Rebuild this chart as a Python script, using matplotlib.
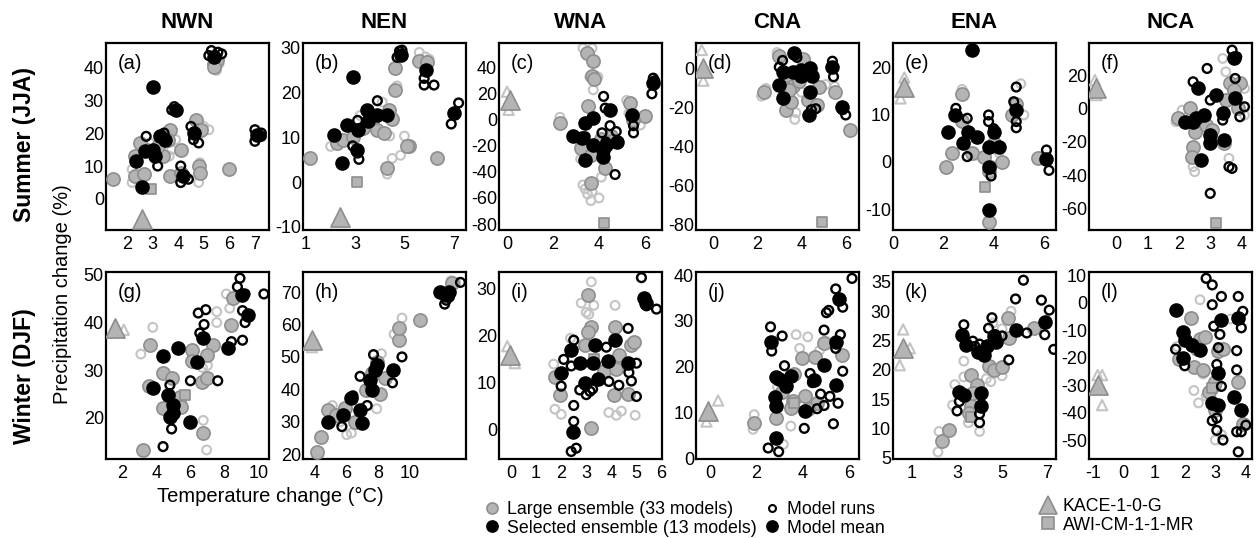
import matplotlib
matplotlib.use('Agg')
import matplotlib.pyplot as plt
from matplotlib.lines import Line2D

plt.rcParams['font.family'] = ['Liberation Sans', 'DejaVu Sans']
plt.rcParams['axes.unicode_minus'] = False

# --- dati: (variação de temperatura °C, variação de precipitação %) ---
REGIOES = ['NWN', 'NEN', 'WNA', 'CNA', 'ENA', 'NCA']
LETRAS = ['a', 'b', 'c', 'd', 'e', 'f', 'g', 'h', 'i', 'j', 'k', 'l']

# (a) NWN verão
a_lg = [(1.45, 6), (2.3, 13), (2.3, 7), (2.65, 7.5), (2.8, 15), (3.4, 13), (3.7, 21), (3.7, 7),
        (4.1, 15), (4.7, 24), (4.8, 21), (4.8, 10), (4.85, 8), (5.4, 41), (6.0, 9), (4.9, 21),
        (3.2, 16), (4.1, 8), (3.6, 18), (2.5, 17), (5.5, 42), (5.4, 40)]
a_lg_runs = [(4.8, 5), (5.0, 22), (5.2, 21), (3.75, 15), (3.65, 13), (2.2, 9), (2.2, 5),
             (4.85, 11), (5.5, 39), (5.6, 41), (2.9, 17), (3.9, 18)]
a_sel = [(3.0, 34), (2.6, 3.7), (2.37, 11.6), (2.7, 14.6), (3.1, 13), (3.3, 19), (3.5, 18),
         (3.9, 27), (4.2, 7), (4.6, 20), (5.4, 43), (7.1, 19.5), (3.0, 15)]
a_sel_runs = [(5.3, 45), (5.55, 44.5), (5.7, 44), (5.2, 43.5), (7.0, 21), (7.25, 20), (7.25, 19),
              (7.0, 17.5), (4.5, 22), (4.6, 18), (4.8, 17), (4.1, 10), (4.1, 5), (4.4, 6),
              (2.75, 19), (3.2, 10), (3.85, 28), (3.75, 27), (3.45, 20)]

# (b) NEN verão
b_lg = [(1.16, 5.3), (2.25, 8.7), (2.52, 9.5), (3.68, 13.5), (3.89, 11.6), (4.16, 10.9),
        (4.36, 16.1), (4.63, 20.6), (4.63, 25.5), (4.29, 3.1), (5.18, 8), (5.6, 27), (5.9, 26.9),
        (6.33, 5.3), (5.1, 8), (3.3, 12), (2.9, 10), (4.5, 14)]
b_lg_runs = [(4.5, 5.3), (4.3, 1.8), (5.0, 10.3), (4.84, 6), (4.4, 10.3), (4.1, 17.9), (4.7, 21.5),
             (5.6, 29), (2.0, 8), (3.2, 14.9), (5.85, 28), (6.0, 27.5)]
b_sel = [(2.93, 23.4), (2.12, 10.6), (2.46, 4.2), (2.66, 12.8), (3.1, 11.7), (3.07, 7.2),
         (3.48, 16.1), (3.89, 14.9), (4.29, 14.9), (4.84, 28.4), (5.86, 25.1), (7.0, 15.5), (3.5, 13.7)]
b_sel_runs = [(3.9, 18.2), (3.1, 13.8), (3.1, 6.5), (3.15, 5.1), (4.7, 27.9), (4.8, 29.3), (2.9, 8.1),
              (5.8, 23.2), (5.8, 21.7), (6.2, 21.7), (6.9, 13), (7.2, 17.7), (4.9, 29.5)]

# (c) WNA verão
c_lg = [(3.46, 51), (3.75, 45.4), (3.7, 33.3), (3.8, 31), (3.5, 10.3), (2.3, -2.5), (3.2, -21.8),
        (3.63, -26.9), (4.26, -37), (3.63, -48.7), (5.35, 12.8), (6.0, 2.6), (4.5, -12.8),
        (4.1, -15), (5.5, 0), (4.55, -16)]
c_lg_runs = [(3.3, 55), (3.7, 55), (3.6, 33), (3.95, 33), (3.75, 23), (2.3, 2), (3.4, -53),
             (3.5, -57), (3.7, -55), (3.65, -62), (4.0, -60), (5.2, 15), (5.3, 5), (5.8, -4),
             (4.1, -44), (3.2, -30), (3.3, -50)]
c_sel = [(3.39, -2.5), (3.75, 1.3), (2.88, -12.8), (3.25, -14), (3.75, -19), (3.4, -30.7),
         (4.19, -28.2), (4.17, -23), (4.48, 7.7), (4.77, -16.7), (5.42, 3.8), (6.36, 28.2), (4.3, -19)]
c_sel_runs = [(4.2, 18), (4.27, 9), (4.48, -4.5), (4.13, -10), (4.3, -17), (4.7, -42), (4.75, -9),
              (5.5, -10), (5.5, -4.5), (6.36, 32), (6.42, 30), (6.3, 20), (3.4, -13)]

# (d) CNA verão
d_lg = [(3.0, 6.5), (2.33, -11.7), (3.3, -21), (3.55, -17), (4.3, -16), (4.8, -9.1), (5.5, -11.7),
        (3.6, -9), (4.7, -18.6), (4.07, 5), (6.2, -31.4), (3.3, -3), (3.9, -6), (3.45, -11)]
d_lg_runs = [(2.9, 8.5), (2.4, -10), (3.7, -26), (3.75, -22.5), (5.1, -8), (5.5, -9), (3.4, -22),
             (4.1, 5), (2.2, -14), (4.0, -12)]
d_sel = [(3.68, 8), (3.15, -1.4), (3.6, -1.4), (4.0, -0.3), (4.4, 0.7), (4.5, -3.4), (4.0, -3.4),
         (3.0, -8.2), (3.15, -15), (4.4, -11.7), (4.35, -23.7), (5.4, 1.2), (5.85, -19.4)]
d_sel_runs = [(3.15, 4.4), (3.0, 1), (4.65, -20.5), (5.85, -21), (6.0, -23.7), (5.4, 4), (5.45, -4),
              (3.8, 6), (4.45, -21)]

# (e) ENA verão
e_lg = [(2.75, 14.4), (2.35, 1.8), (2.1, -1), (3.15, 1.8), (3.8, -2), (4.35, 0), (4.88, 12.3),
        (4.75, 9.9), (5.75, 0.9), (3.8, -12.7), (2.75, 8.6), (3.6, 1), (4.0, 4)]
e_lg_runs = [(5.08, 16.5), (5.2, 9.9), (2.75, 15.3), (2.1, -1.6), (3.3, 1.4), (3.95, -0.8),
             (3.0, 5), (4.2, 2)]
e_sel = [(3.15, 23.7), (2.48, 9.9), (2.2, 6.3), (3.0, 6.3), (3.35, 5.3), (2.8, 3.9), (3.8, 3.2),
         (4.2, 3.2), (4.0, 6.3), (3.8, -1), (4.88, 10.9), (6.08, 0.7), (3.8, -10.2)]
e_sel_runs = [(2.5, 11.3), (2.95, 9.2), (2.95, 1.1), (3.8, 9.9), (3.8, 8.5), (4.9, 15.8), (4.8, 12.7),
              (4.9, 8.5), (4.9, 7.2), (6.1, 2.5), (6.2, -1.8), (3.9, -3), (4.0, 7)]

# (f) NCA verão
f_lg = [(1.96, -6), (2.5, -14), (2.45, -23), (2.4, -29), (3.5, 5), (3.65, 15), (3.95, 15),
        (3.75, 11), (2.85, -10), (3.45, -21), (3.05, -13), (2.35, 0), (3.9, 0)]
f_lg_runs = [(3.4, 30), (3.5, 22), (4.1, 12), (2.45, -35), (2.5, -38), (1.9, -8), (3.6, -30),
             (4.1, -4), (2.1, -1)]
f_sel = [(3.77, 30), (2.6, 12), (3.18, 8), (3.8, 6), (2.45, -8), (2.8, -4), (2.55, -6), (3.0, -16),
         (3.0, -21), (3.45, -18.7), (2.7, -31), (3.4, -3), (2.2, -8)]
f_sel_runs = [(3.7, 35), (3.85, 31), (2.9, 24), (2.45, 16), (3.8, 18), (3.0, 5), (4.1, 1),
              (3.95, -5), (3.6, -35), (3.7, -36), (3.0, -51), (3.4, -7)]

# (g) NWN inverno
g_lg = [(3.64, 35.3), (3.55, 26.6), (4.4, 29.4), (4.9, 28.3), (4.4, 22), (5.4, 24.5), (5.45, 22.3),
        (3.25, 13.3), (6.07, 34.3), (6.66, 27.6), (7.0, 28.3), (7.3, 35.4), (7.0, 33.2), (8.4, 39.5),
        (8.5, 45.1), (6.75, 16.8), (6.1, 32)]
g_lg_runs = [(3.1, 33.4), (3.8, 39), (7.54, 42.3), (7.54, 40), (6.7, 30.6), (7.0, 31), (6.95, 13.3),
             (6.75, 19.5), (8.1, 46), (8.3, 43), (4.8, 25)]
g_sel = [(4.4, 32.9), (5.3, 34.6), (3.8, 26.2), (4.7, 24.8), (5.0, 22.7), (4.8, 20.3), (6.0, 19.2),
         (6.4, 31.8), (6.75, 36.7), (8.2, 34.6), (9.0, 45.8), (9.4, 41.6), (5.0, 21)]
g_sel_runs = [(6.46, 42), (6.9, 42.7), (6.8, 39.6), (6.55, 37.8), (6.0, 27.8), (7.6, 27.8), (8.4, 36),
              (8.9, 49.3), (8.75, 47.5), (9.2, 46), (9.05, 42.5), (9.05, 36.3), (9.2, 40), (10.3, 46),
              (4.4, 14), (4.9, 17.7), (4.8, 26.9)]

# (h) NEN inverno
h_lg = [(4.1, 20.7), (4.4, 25.3), (4.84, 33.6), (5.3, 32), (5.9, 34.3), (7.2, 39.8), (8.1, 38.5),
        (7.9, 48.5), (8.4, 43.4), (9.3, 55.2), (9.3, 58.8), (10.65, 61.4), (12.65, 72.7), (6.5, 30),
        (7.6, 45)]
h_lg_runs = [(6.0, 26), (6.3, 26.5), (9.5, 62), (9.0, 57), (7.9, 34), (5.1, 35), (8.2, 51),
             (12.6, 73.5), (12.9, 73), (5.6, 30)]
h_sel = [(4.84, 30), (5.8, 32), (6.3, 37.2), (6.85, 33.6), (6.96, 29.5), (7.5, 42.8), (7.6, 39.8),
         (7.9, 47.5), (7.8, 46), (8.96, 45.9), (11.9, 70), (12.3, 69), (12.5, 70)]
h_sel_runs = [(7.7, 50.7), (6.85, 44), (9.5, 50), (5.7, 28.5), (8.9, 42), (7.3, 35), (12.3, 67.5),
              (12.2, 66.3), (13.2, 73), (12.5, 68.5), (6.4, 38)]

# (i) WNA inverno
i_lg = [(3.07, 28.7), (3.2, 22), (3.07, 20.8), (2.95, 18), (4.13, 22), (4.8, 18), (1.75, 11.3),
        (1.97, 7.4), (3.2, 0.4), (4.1, 7.4), (4.66, 7.6), (3.7, 12.5), (4.2, 13), (4.3, 16), (4.9, 18.6)]
i_lg_runs = [(3.2, 31.5), (2.8, 27), (3.3, 26.5), (3.1, 24.6), (4.15, 26.5), (1.75, 4.4), (2.0, 3.3),
             (3.9, 3.7), (4.4, 4), (4.2, 3.1), (4.95, 3.1), (1.7, 14), (2.37, 19.5), (3.0, 25)]
i_sel = [(2.4, 17), (2.0, 12.1), (2.74, 14.2), (2.94, 10), (3.27, 14.2), (3.33, 18.1), (3.45, 10.8),
         (3.86, 14.6), (4.13, 19.1), (4.66, 14.2), (2.47, -0.4), (5.3, 28), (5.4, 27)]
i_sel_runs = [(2.5, 19.1), (2.1, 15), (2.0, 9.3), (2.4, 13.6), (2.74, 8.5), (3.0, 7.5), (3.15, 8.2),
              (3.25, 8.7), (2.5, 5.2), (2.5, 1.8), (2.4, -4.6), (2.6, -3.9), (3.8, 17.6), (4.67, 21.6),
              (5.0, 14.2), (4.7, 12.2), (4.8, 10.4), (5.0, 7.1), (3.9, 10.3), (4.3, 9.5), (5.2, 32.4),
              (5.4, 26.4), (5.8, 25.7)]

# (j) CNA inverno
j_lg = [(1.9, 7.6), (2.84, 8.8), (3.55, 12.4), (3.97, 21.8), (4.1, 13.6), (4.5, 22), (4.6, 12.1),
        (3.5, 11), (4.9, 25.2), (5.67, 22.5), (3.6, 18.3), (4.2, 10.8), (3.1, 14.5)]
j_lg_runs = [(1.9, 9.5), (1.85, 6.3), (3.7, 27), (4.2, 26.5), (3.47, 7), (3.15, 3), (2.9, 15.6),
             (3.85, 24), (4.7, 23.5), (2.8, 13), (5.0, 25.5)]
j_sel = [(2.6, 25.4), (2.84, 17.8), (2.98, 17.4), (2.8, 13.4), (2.84, 11.3), (3.26, 15.8), (3.5, 18),
         (2.84, 4.3), (4.1, 10.2), (4.47, 17), (4.9, 20.4), (5.4, 25.4), (5.4, 16), (5.53, 34.9)]
j_sel_runs = [(2.6, 28.7), (2.65, 23.4), (3.1, 26.7), (3.2, 20.2), (2.5, 2.2), (2.95, 1.4), (4.05, 6.5),
              (4.3, 18.5), (4.4, 16.5), (4.6, 10.8), (4.75, 14), (4.9, 11.5), (4.9, 28), (5.0, 31.8),
              (5.1, 32.3), (5.3, 7.5), (5.15, 13.5), (5.4, 37), (5.7, 33), (6.1, 39.3), (5.6, 27),
              (5.7, 19), (5.5, 12), (5.4, 24)]

# (k) ENA inverno
k_lg = [(2.33, 7.8), (2.65, 9.8), (3.6, 19.2), (3.9, 17.5), (3.6, 13.8), (4.4, 20.6), (4.65, 20),
        (5.0, 20.5), (5.25, 28.8), (5.3, 25.4), (6.4, 27.1), (3.7, 16), (3.55, 12.6)]
k_lg_runs = [(2.15, 6), (2.2, 9.5), (2.9, 17.5), (3.3, 21.5), (3.3, 18.8), (3.5, 11), (4.3, 18.5),
             (4.5, 18), (5.0, 19), (5.4, 30), (5.0, 27), (4.0, 9.5), (2.8, 14), (4.6, 28)]
k_sel = [(3.23, 26), (3.4, 24.3), (3.08, 16.3), (3.3, 15.7), (4.05, 16.0), (4.05, 13.8), (3.95, 23.1),
         (4.35, 24.0), (4.65, 25.7), (4.2, 22.5), (5.6, 26.8), (6.9, 28.2), (4.75, 24.7)]
k_sel_runs = [(3.3, 27.7), (3.0, 13), (3.1, 14.6), (4.0, 12.5), (3.7, 24.9), (3.8, 24), (4.4, 27.1),
              (4.55, 28.9), (4.7, 26), (5.0, 25.8), (5.3, 21.7), (5.6, 32.1), (5.95, 35.3), (6.1, 26.3),
              (6.75, 31.9), (7.1, 30.2), (7.3, 23.5), (6.9, 26), (4.0, 11), (4.0, 24.4)]

# (l) NCA inverno
l_lg = [(2.2, -5.8), (1.8, -20.7), (2.3, -23.6), (2.6, -24.5), (2.5, -13.3), (2.65, -12.5),
        (3.1, -17.8), (3.25, -17), (2.8, -32.4), (2.95, -30), (3.0, -39), (3.75, -29), (3.9, -44),
        (2.4, -17), (3.0, -29)]
l_lg_runs = [(2.5, 1), (3.5, -6), (2.3, -32), (2.45, -36.5), (3.0, -50), (3.2, -48), (2.6, -26),
             (1.75, -16), (2.7, -34)]
l_sel = [(1.71, -2.7), (1.93, -10.6), (2.0, -13.6), (2.25, -15.4), (2.5, -17.3), (1.93, -20.3),
         (3.1, -25.8), (2.9, -36.7), (3.1, -37.3), (3.6, -34.2), (3.85, -39), (3.75, -5.8), (3.2, -6.3)]
l_sel_runs = [(2.7, 8.8), (2.9, 6.4), (3.2, 2.2), (2.9, -0.8), (3.75, 2.2), (3.9, -3.2), (3.85, -9.2),
              (2.95, -8.6), (3.15, -11.6), (3.1, -16.4), (3.05, -22.5), (3.7, -17.5), (3.7, -24.5),
              (3.2, -30.5), (3.05, -42), (2.9, -43), (3.05, -46.5), (3.25, -50), (3.7, -47),
              (3.75, -54.3), (3.85, -47), (4.0, -44.6), (1.7, -17), (2.0, -23)]

# modelos destacados, um valor por painel (a..l)
KACE_MEAN = [(2.6, -6), (2.39, -7.7), (0.13, 15.4), (-0.43, 0.3), (0.44, 15.8), (-0.65, 12),
             (1.6, 38.8), (3.8, 55.2), (-0.04, 16), (-0.07, 10.2), (0.6, 23.7), (-0.82, -30)]
KACE_RUNS = [[(2.6, -6.8)], [(2.39, -8.5)], [(0.0, 21.6), (0.07, 7.7)], [(-0.5, 9.8), (-0.43, -6)],
             [(0.45, 17.8), (0.3, 13.4)], [(-0.7, 17), (-0.65, 8)], [(2.1, 38.5), (1.6, 39.5)],
             [(4.1, 54), (3.8, 53)], [(-0.15, 17.8), (0.15, 14.2)], [(0.35, 12.6), (-0.15, 8)],
             [(0.6, 26.9), (0.9, 23.7), (0.45, 20.8)], [(-0.85, -26.4), (-0.7, -26.4), (-0.7, -37.3)]]
AWI_MEAN = [(2.95, 3), (3.07, 0.1), (4.2, -79), (4.95, -79), (3.64, -5.4), (3.2, -69),
            (5.7, 24.9), (7.5, 42), (3.3, 15), (3.6, 12), (3.6, 12), (2.9, -31)]

XTICKS = [[2, 3, 4, 5, 6, 7], [1, 3, 5, 7], [0, 2, 4, 6], [0, 2, 4, 6], [0, 2, 4, 6], [0, 1, 2, 3, 4],
          [2, 4, 6, 8, 10], [4, 6, 8, 10], [0, 1, 2, 3, 4, 5, 6], [0, 2, 4, 6], [1, 3, 5, 7],
          [-1, 0, 1, 2, 3, 4]]
YTICKS = [[0, 10, 20, 30, 40], [-10, 0, 10, 20, 30], [-80, -60, -40, -20, 0, 20, 40],
          [-80, -60, -40, -20, 0], [-10, 0, 10, 20], [-60, -40, -20, 0, 20],
          [20, 30, 40, 50], [20, 30, 40, 50, 60, 70], [0, 10, 20, 30], [0, 10, 20, 30, 40],
          [5, 10, 15, 20, 25, 30, 35], [-50, -40, -30, -20, -10, 0, 10]]

LARGE = [a_lg, b_lg, c_lg, d_lg, e_lg, f_lg, g_lg, h_lg, i_lg, j_lg, k_lg, l_lg]
LARGE_RUNS = [a_lg_runs, b_lg_runs, c_lg_runs, d_lg_runs, e_lg_runs, f_lg_runs,
              g_lg_runs, h_lg_runs, i_lg_runs, j_lg_runs, k_lg_runs, l_lg_runs]
SEL = [a_sel, b_sel, c_sel, d_sel, e_sel, f_sel, g_sel, h_sel, i_sel, j_sel, k_sel, l_sel]
SEL_RUNS = [a_sel_runs, b_sel_runs, c_sel_runs, d_sel_runs, e_sel_runs, f_sel_runs,
            g_sel_runs, h_sel_runs, i_sel_runs, j_sel_runs, k_sel_runs, l_sel_runs]

XLIM = [(1.18, 7.55), (0.88, 7.5), (-0.35, 6.74), (-0.76, 6.6), (0.0, 6.48), (-0.89, 4.34),
        (1.06, 10.6), (3.24, 13.55), (-0.48, 6.02), (-0.6, 6.4), (0.15, 7.4), (-1.13, 4.2)]
YLIM = [(-9.4, 47.3), (-10.7, 31.1), (-84.6, 59), (-83, 13.4), (-14.4, 25.1), (-73, 39.3),
        (11.4, 50.6), (18.5, 76.2), (-6.2, 33.6), (-0.2, 40.7), (4.8, 36.7), (-56.9, 11.1)]

CINZA = '#b4b4b4'
CINZA_BORDA = '#8e8e8e'
CINZA_CLARO = '#c4c4c4'

W, H = 1257, 538
fig = plt.figure(figsize=(W / 100, H / 100), dpi=100)

esquerdas = [106, 303, 499, 696, 893, 1089]
topos = [43, 272]
larg, alt = 163, 187


def pontos(ax, dados, **kw):
    if not dados:
        return
    xs = [p[0] for p in dados]
    ys = [p[1] for p in dados]
    ax.scatter(xs, ys, **kw)


for k in range(12):
    lin, col = divmod(k, 6)
    ax = fig.add_axes([esquerdas[col] / W, 1 - (topos[lin] + alt) / H, larg / W, alt / H])

    pontos(ax, LARGE_RUNS[k], s=40, facecolors='none', edgecolors=CINZA_CLARO, linewidths=1.5, zorder=2)
    pontos(ax, LARGE[k], s=90, facecolors=CINZA, edgecolors=CINZA_BORDA, linewidths=1.2, zorder=3)
    pontos(ax, KACE_RUNS[k], s=55, marker='^', facecolors='none', edgecolors=CINZA_CLARO,
           linewidths=1.5, zorder=3)
    pontos(ax, [KACE_MEAN[k]], s=190, marker='^', facecolors=CINZA, edgecolors=CINZA_BORDA,
           linewidths=1.2, zorder=4)
    pontos(ax, [AWI_MEAN[k]], s=60, marker='s', facecolors=CINZA, edgecolors=CINZA_BORDA,
           linewidths=1.2, zorder=4)
    pontos(ax, SEL_RUNS[k], s=40, facecolors='none', edgecolors='black', linewidths=1.7, zorder=5)
    pontos(ax, SEL[k], s=90, facecolors='black', edgecolors='black', linewidths=1.0, zorder=6)

    ax.set_xlim(*XLIM[k])
    ax.set_ylim(*YLIM[k])
    ax.set_xticks(XTICKS[k])
    ax.set_yticks(YTICKS[k])
    ax.tick_params(length=0, labelsize=13)
    ax.tick_params(axis='x', pad=4.5)
    ax.tick_params(axis='y', pad=1.5)
    for sp in ax.spines.values():
        sp.set_linewidth(1.6)
    ax.text(0.07, 0.94, f'({LETRAS[k]})', transform=ax.transAxes, fontsize=14.5,
            ha='left', va='top', zorder=7)
    if lin == 0:
        fig.text((esquerdas[col] + larg / 2) / W, 1 - 22 / H, REGIOES[col], fontsize=16,
                 fontweight='bold', ha='center', va='center')

fig.text(25 / W, 1 - 145 / H, 'Summer (JJA)', rotation=90, fontsize=16.5, fontweight='bold',
         ha='center', va='center')
fig.text(25 / W, 1 - 376 / H, 'Winter (DJF)', rotation=90, fontsize=16.5, fontweight='bold',
         ha='center', va='center')
fig.text(63 / W, 1 - 294 / H, 'Precipitation change (%)', rotation=90, fontsize=14.5,
         ha='center', va='center')
fig.text(270 / W, 1 - 496 / H, 'Temperature change (°C)', fontsize=14.5, ha='center', va='center')

# legendas
def mk(marker, face, edge, size, lw=1.2):
    return Line2D([], [], linestyle='none', marker=marker, markersize=size,
                  markerfacecolor=face, markeredgecolor=edge, markeredgewidth=lw)


estilo = dict(frameon=False, fontsize=12.8, handletextpad=0.35, labelspacing=0.1,
              borderpad=0, handlelength=1.0, loc='upper left')
fig.legend([mk('o', CINZA, CINZA_BORDA, 8), mk('o', 'black', 'black', 8)],
           ['Large ensemble (33 models)', 'Selected ensemble (13 models)'],
           bbox_to_anchor=(474 / W, 1 - 492 / H), **estilo)
fig.legend([mk('o', 'none', 'black', 5, 1.5), mk('o', 'black', 'black', 8)],
           ['Model runs', 'Model mean'],
           bbox_to_anchor=(754 / W, 1 - 492 / H), **estilo)
fig.legend([mk('^', CINZA, CINZA_BORDA, 13), mk('s', CINZA, CINZA_BORDA, 8)],
           ['KACE-1-0-G', 'AWI-CM-1-1-MR'],
           bbox_to_anchor=(1030 / W, 1 - 489 / H), **estilo)

fig.savefig('out.png', dpi=100)
